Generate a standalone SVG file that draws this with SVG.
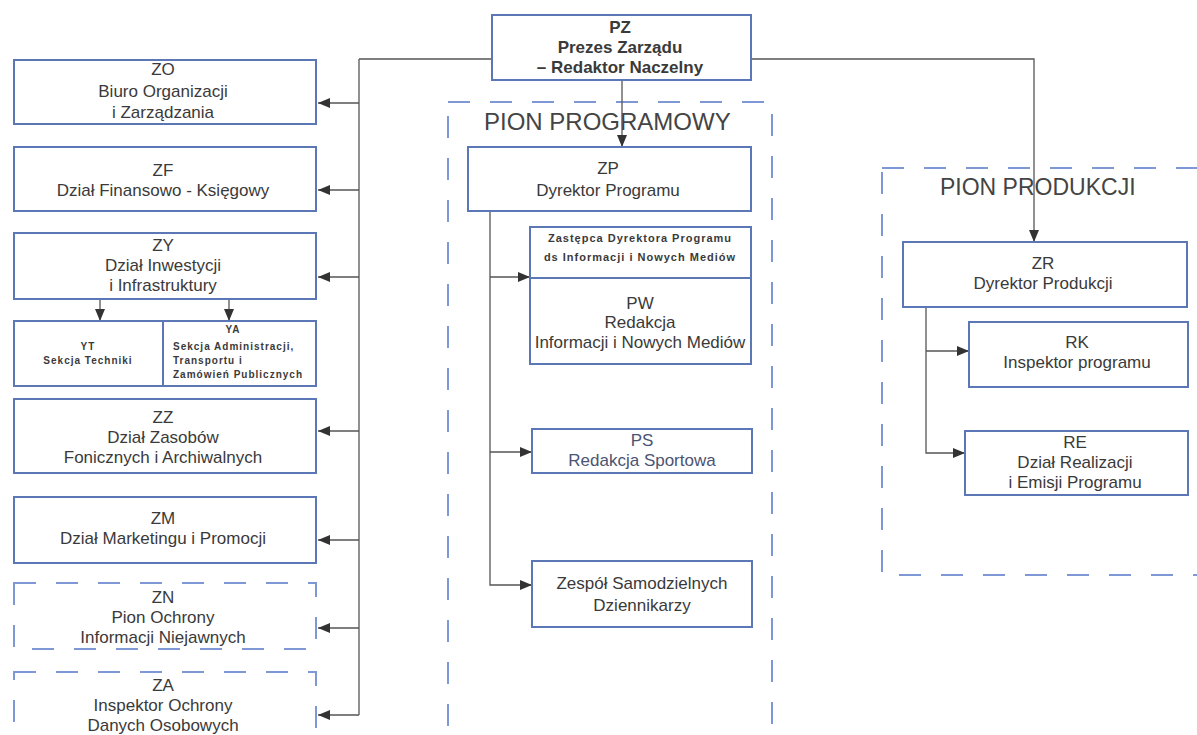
<svg xmlns="http://www.w3.org/2000/svg" width="1197" height="735" viewBox="0 0 1197 735">
<style>
.box{fill:#fff;stroke:#5b77b5;stroke-width:2}
.dbox{fill:none;stroke:#7d98d4;stroke-width:2;stroke-dasharray:22 20}
.t{font-family:"Liberation Sans",Arial,sans-serif;font-size:17px;fill:#3a3a3a;text-anchor:middle}
.b{font-weight:bold}
.s{font-family:"Liberation Sans",Arial,sans-serif;font-size:10px;font-weight:bold;fill:#3a3a3a;letter-spacing:1px}
.z{font-family:"Liberation Sans",Arial,sans-serif;font-size:11px;font-weight:bold;fill:#3a3a3a;letter-spacing:1px;text-anchor:middle}
.title{font-family:"Liberation Sans",Arial,sans-serif;fill:#444}
.c{fill:none;stroke:#555;stroke-width:1.3}
</style>
<defs>
<marker id="ah" viewBox="0 0 12 10" refX="12" refY="5" markerWidth="12" markerHeight="10" markerUnits="userSpaceOnUse" orient="auto">
<path d="M0,0 L12,5 L0,10 z" fill="#333"/>
</marker>
</defs>
<rect width="1197" height="735" fill="#fff"/>

<g id="pion-programowy">
<rect class="dbox" x="448" y="102" width="324" height="660"/>
<text class="title" x="484" y="130" font-size="24">PION PROGRAMOWY</text>
</g>
<g id="pion-produkcji">
<rect class="dbox" x="882" y="168" width="320" height="407"/>
<text class="title" x="940" y="195" font-size="23">PION PRODUKCJI</text>
</g>

<g id="connectors">
<path class="c" d="M359,59 H492"/>
<path class="c" d="M751,59 H1034 V242" marker-end="url(#ah)"/>
<path class="c" d="M622,80 V147" marker-end="url(#ah)"/>
<path class="c" d="M359,59 V715"/>
<path class="c" d="M359,103 H318" marker-end="url(#ah)"/>
<path class="c" d="M359,190 H318" marker-end="url(#ah)"/>
<path class="c" d="M359,277 H318" marker-end="url(#ah)"/>
<path class="c" d="M359,431 H318" marker-end="url(#ah)"/>
<path class="c" d="M359,540 H318" marker-end="url(#ah)"/>
<path class="c" d="M359,628 H318" marker-end="url(#ah)"/>
<path class="c" d="M359,715 H318" marker-end="url(#ah)"/>
<path class="c" d="M100,299 V321" marker-end="url(#ah)"/>
<path class="c" d="M229,299 V321" marker-end="url(#ah)"/>
<path class="c" d="M490,211 V585 H532" marker-end="url(#ah)"/>
<path class="c" d="M490,277 H530" marker-end="url(#ah)"/>
<path class="c" d="M490,452 H532" marker-end="url(#ah)"/>
<path class="c" d="M926,307 V453 H965" marker-end="url(#ah)"/>
<path class="c" d="M926,351 H969" marker-end="url(#ah)"/>
</g>

<g id="PZ">
<rect class="box" x="492" y="15" width="259" height="65"/>
<text class="t b" x="620" y="33">PZ</text>
<text class="t b" x="620" y="53">Prezes Zarządu</text>
<text class="t b" x="620" y="73">– Redaktor Naczelny</text>
</g>

<g id="ZO">
<rect class="box" x="14" y="60" width="302" height="64"/>
<text class="t" x="163" y="75">ZO</text>
<text class="t" x="163" y="97">Biuro Organizacji</text>
<text class="t" x="163" y="118">i Zarządzania</text>
</g>
<g id="ZF">
<rect class="box" x="14" y="147" width="302" height="64"/>
<text class="t" x="163" y="176">ZF</text>
<text class="t" x="163" y="196">Dział Finansowo - Księgowy</text>
</g>
<g id="ZY">
<rect class="box" x="14" y="233" width="302" height="66"/>
<text class="t" x="163" y="251">ZY</text>
<text class="t" x="163" y="271">Dział Inwestycji</text>
<text class="t" x="163" y="291">i Infrastruktury</text>
</g>
<g id="YT">
<rect class="box" x="14" y="321" width="149" height="65"/>
<text class="s" x="88" y="350" text-anchor="middle">YT</text>
<text class="s" x="88" y="364" text-anchor="middle">Sekcja Techniki</text>
</g>
<g id="YA">
<rect class="box" x="163" y="321" width="153" height="65"/>
<text class="s" x="233" y="333" text-anchor="middle">YA</text>
<text class="s" x="173" y="350">Sekcja Administracji,</text>
<text class="s" x="173" y="364">Transportu i</text>
<text class="s" x="173" y="378">Zamówień Publicznych</text>
</g>
<g id="ZZ">
<rect class="box" x="14" y="399" width="302" height="74"/>
<text class="t" x="163" y="423">ZZ</text>
<text class="t" x="163" y="443">Dział Zasobów</text>
<text class="t" x="163" y="463">Fonicznych i Archiwalnych</text>
</g>
<g id="ZM">
<rect class="box" x="14" y="497" width="302" height="66"/>
<text class="t" x="163" y="524">ZM</text>
<text class="t" x="163" y="544">Dział Marketingu i Promocji</text>
</g>
<g id="ZN">
<rect class="dbox" x="14" y="583" width="302" height="66"/>
<text class="t" x="163" y="603">ZN</text>
<text class="t" x="163" y="623">Pion Ochrony</text>
<text class="t" x="163" y="643">Informacji Niejawnych</text>
</g>
<g id="ZA">
<rect class="dbox" x="14" y="672" width="302" height="80"/>
<text class="t" x="163" y="691">ZA</text>
<text class="t" x="163" y="711">Inspektor Ochrony</text>
<text class="t" x="163" y="731">Danych Osobowych</text>
</g>

<g id="ZP">
<rect class="box" x="468" y="147" width="283" height="64"/>
<text class="t" x="608" y="174">ZP</text>
<text class="t" x="608" y="196">Dyrektor Programu</text>
</g>
<g id="ZDP">
<rect class="box" x="530" y="227" width="221" height="51"/>
<text class="z" x="640" y="242">Zastępca Dyrektora Programu</text>
<text class="z" x="640" y="261">ds Informacji i Nowych Mediów</text>
</g>
<g id="PW">
<rect class="box" x="530" y="278" width="221" height="86"/>
<text class="t" x="640" y="309">PW</text>
<text class="t" x="640" y="328">Redakcja</text>
<text class="t" x="640" y="348">Informacji i Nowych Mediów</text>
</g>
<g id="PS">
<rect class="box" x="532" y="429" width="220" height="44"/>
<text class="t" x="642" y="446" style="fill:#4b5472">PS</text>
<text class="t" x="642" y="466" style="fill:#4b5472">Redakcja Sportowa</text>
</g>
<g id="ZSD">
<rect class="box" x="532" y="561" width="220" height="66"/>
<text class="t" x="642" y="589">Zespół Samodzielnych</text>
<text class="t" x="642" y="611">Dziennikarzy</text>
</g>

<g id="ZR">
<rect class="box" x="903" y="242" width="284" height="65"/>
<text class="t" x="1043" y="269">ZR</text>
<text class="t" x="1043" y="289">Dyrektor Produkcji</text>
</g>
<g id="RK">
<rect class="box" x="969" y="322" width="219" height="65"/>
<text class="t" x="1077" y="348">RK</text>
<text class="t" x="1077" y="368">Inspektor programu</text>
</g>
<g id="RE">
<rect class="box" x="965" y="431" width="223" height="64"/>
<text class="t" x="1075" y="448">RE</text>
<text class="t" x="1075" y="468">Dział Realizacji</text>
<text class="t" x="1075" y="488">i Emisji Programu</text>
</g>
</svg>
